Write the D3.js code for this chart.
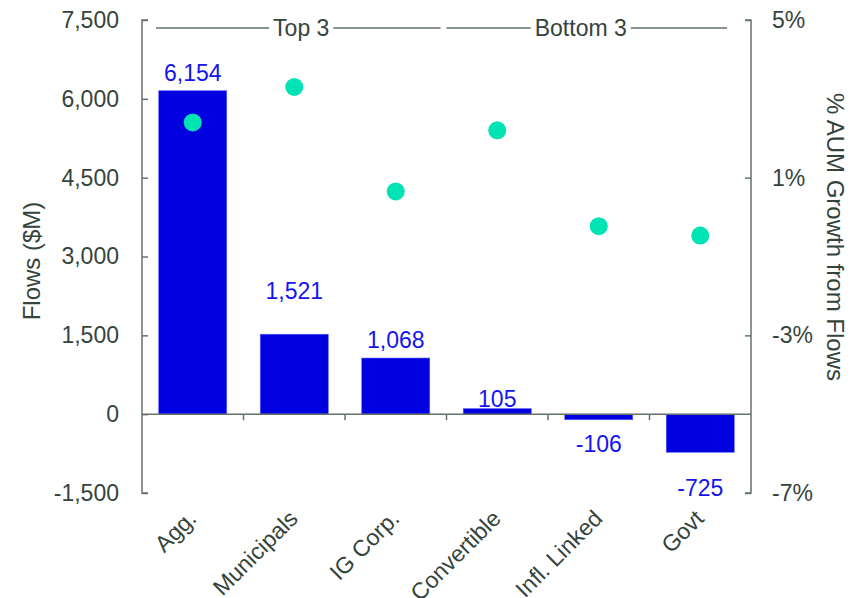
<!DOCTYPE html>
<html><head><meta charset="utf-8">
<script src="https://cdn.jsdelivr.net/npm/d3@7"></script>
<style>
body{margin:0;background:#fff;}
svg{display:block;font-family:"Liberation Sans",Arial,sans-serif;}
</style></head>
<body><svg id="c" width="860" height="598"></svg>
<script>
const categories = ["Agg.","Municipals","IG Corp.","Convertible","Infl. Linked","Govt"];
const flows = [6154,1521,1068,105,-106,-725];
const aumGrowth = [2.4,3.3,0.65,2.2,-0.23,-0.47];
const leftTicks = [-1500,0,1500,3000,4500,6000,7500];
const rightTicks = [-7,-3,1,5];
const groups = [{name:"Top 3", from:0, to:2},{name:"Bottom 3", from:3, to:5}];
// label pixel offsets above/below bar ends (layout only)
const labelOffsets = [10,35,10,2,16,28];

const W=860,H=598, L=142, R=751, T=20, B=493;
const textCol="#34443c", lineCol="#66736c";
const barCol="#0000e1", labelCol="#1414ee", dotCol="#00e3b4";
const FS=23;

const svg=d3.select("#c");
const x=d3.scaleBand().domain(categories).range([L,R]).paddingInner(0.33).paddingOuter(0.165);
const step=x.step();
const yL=d3.scaleLinear().domain([-1500,7500]).range([B,T]);
const yR=d3.scaleLinear().domain([-7,5]).range([B,T]);
const fmt=d=>d3.format(",")(d).replace("\u2212","-");

// bars
svg.append("g").selectAll("rect").data(categories).join("rect")
  .attr("x",d=>x(d)).attr("width",x.bandwidth())
  .attr("y",(d,i)=>yL(Math.max(0,flows[i])))
  .attr("height",(d,i)=>Math.abs(yL(flows[i])-yL(0)))
  .attr("fill",barCol).attr("stroke","#5a5aff").attr("stroke-width",0.6);

// zero line
svg.append("line").attr("x1",L).attr("x2",R).attr("y1",yL(0)).attr("y2",yL(0))
  .attr("stroke",lineCol).attr("stroke-width",1.5);
// category boundary ticks
svg.append("g").selectAll("line").data(categories.slice(0,-1)).join("line")
  .attr("x1",d=>x(d)+x.bandwidth()+(step-x.bandwidth())/2)
  .attr("x2",d=>x(d)+x.bandwidth()+(step-x.bandwidth())/2)
  .attr("y1",yL(0)).attr("y2",yL(0)+6).attr("stroke",lineCol).attr("stroke-width",1.5);

// left axis
const gl=svg.append("g").attr("transform",`translate(${L},0)`)
  .call(d3.axisLeft(yL).tickValues(leftTicks).tickFormat(fmt).tickSize(-6).tickPadding(23));
// right axis
const gr=svg.append("g").attr("transform",`translate(${R},0)`)
  .call(d3.axisRight(yR).tickValues(rightTicks).tickFormat(d=>fmt(d)+"%").tickSize(-6).tickPadding(21));
[gl,gr].forEach(g=>{
  g.select(".domain").attr("stroke",lineCol).attr("stroke-width",1.5)
    .attr("d", g===gl ? `M6,${T}H0V${B}H6` : `M-6,${T}H0V${B}H-6`);
  g.selectAll(".tick line").attr("stroke",lineCol).attr("stroke-width",1.5);
  g.selectAll(".tick text").attr("fill",textCol).style("font-size",FS+"px").style("font-family","'Liberation Sans',Arial,sans-serif");
});

// value labels
svg.append("g").selectAll("text").data(categories).join("text")
  .attr("x",d=>x(d)+x.bandwidth()/2)
  .attr("y",(d,i)=> flows[i]>=0 ? yL(flows[i])-labelOffsets[i] : yL(flows[i])+labelOffsets[i]+16)
  .attr("text-anchor","middle").attr("fill",labelCol).style("font-size",FS+"px")
  .text((d,i)=>fmt(flows[i]));

// dots
svg.append("g").selectAll("circle").data(categories).join("circle")
  .attr("cx",d=>x(d)+x.bandwidth()/2).attr("cy",(d,i)=>yR(aumGrowth[i]))
  .attr("r",9).attr("fill",dotCol);

// category labels
svg.append("g").selectAll("text").data(categories).join("text")
  .attr("transform",d=>`translate(${x(d)+x.bandwidth()/2+5},520) rotate(-45)`)
  .attr("text-anchor","end").attr("fill",textCol).style("font-size",FS+"px")
  .text(d=>d);

// group brackets
const gy=28;
const textShift=[3,-6];
groups.forEach((g,gi)=>{
  const x0 = gi===0 ? x(categories[g.from])-(step-x.bandwidth())/2+14 : x(categories[g.from])-(step-x.bandwidth())/2;
  const x1 = gi===0 ? x(categories[g.to])+x.bandwidth()+(step-x.bandwidth())/2-6 : x(categories[g.to])+x.bandwidth()+(step-x.bandwidth())/2-24;
  const cx=(x0+x1)/2+textShift[gi];
  const t=svg.append("text").attr("x",cx).attr("y",gy+8).attr("text-anchor","middle")
    .attr("fill",textCol).style("font-size",FS+"px").text(g.name);
  const w=t.node().getComputedTextLength();
  svg.append("line").attr("x1",x0).attr("x2",cx-w/2-4).attr("y1",gy).attr("y2",gy).attr("stroke",lineCol).attr("stroke-width",1.5);
  svg.append("line").attr("x1",cx+w/2+4).attr("x2",x1).attr("y1",gy).attr("y2",gy).attr("stroke",lineCol).attr("stroke-width",1.5);
});

// axis titles
svg.append("text").attr("transform",`translate(40,261) rotate(-90)`)
  .attr("text-anchor","middle").attr("fill",textCol).style("font-size","24px").text("Flows ($M)");
svg.append("text").attr("transform",`translate(827,237) rotate(90)`)
  .attr("text-anchor","middle").attr("fill",textCol).style("font-size","24px").text("% AUM Growth from Flows");
</script></body></html>
